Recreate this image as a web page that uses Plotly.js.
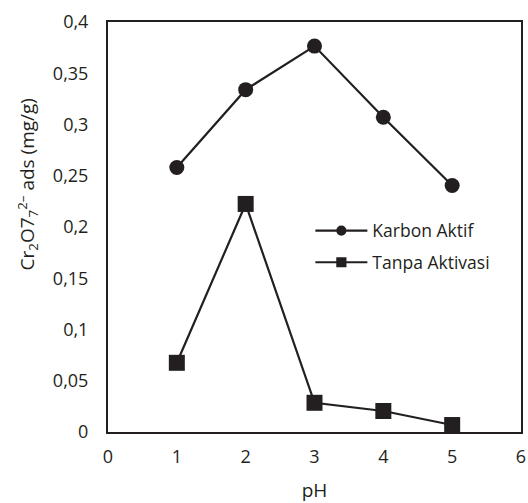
<!DOCTYPE html>
<html>
<head>
<meta charset="utf-8">
<script src="https://cdn.plot.ly/plotly-3.0.1.min.js"></script>
<style>html,body{margin:0;padding:0;background:#fff;}#chart{width:528px;height:503px;}</style>
</head>
<body>
<div id="chart"></div>
<script>
const pH = [1, 2, 3, 4, 5];
const karbonAktif = [0.258, 0.334, 0.3765, 0.307, 0.2405];
const tanpaAktivasi = [0.0675, 0.2225, 0.0285, 0.0205, 0.0068];
const yTicks = [0, 0.05, 0.1, 0.15, 0.2, 0.25, 0.3, 0.35, 0.4];
const xTicks = [0, 1, 2, 3, 4, 5, 6];

const ink = '#231f20';
const fontFam = '"Open Sans", sans-serif';

const traces = [
  {
    x: pH, y: karbonAktif, name: 'Karbon Aktif', type: 'scatter', mode: 'lines+markers',
    legendgroup: 'a',
    line: {color: ink, width: 2.2},
    marker: {symbol: 'circle', size: 15, color: ink}
  },
  {
    x: pH, y: tanpaAktivasi, name: 'Tanpa Aktivasi', type: 'scatter', mode: 'lines+markers',
    legendgroup: 'b',
    line: {color: ink, width: 2.2},
    marker: {symbol: 'square', size: 16, color: ink}
  }
];

const layout = {
  width: 528, height: 503,
  margin: {l: 108, r: 7, t: 22, b: 71},
  paper_bgcolor: '#fff', plot_bgcolor: '#fff',
  separators: ',.',
  font: {family: fontFam, size: 16, color: ink},
  showlegend: true,
  legend: {
    x: 0.49, y: 0.535, xanchor: 'left', yanchor: 'top',
    bgcolor: 'rgba(0,0,0,0)', borderwidth: 0,
    font: {family: fontFam, size: 17.5, color: ink},
    itemwidth: 52, tracegroupgap: 6, itemsizing: 'constant'
  },
  xaxis: {
    range: [0, 6], tickvals: xTicks, ticks: '', showgrid: false, zeroline: false,
    showline: true, mirror: true, linecolor: ink, linewidth: 2,
    tickfont: {family: fontFam, size: 18, color: ink}, ticklabelstandoff: 7,
    title: {text: 'pH', font: {family: fontFam, size: 19, color: ink}, standoff: 18}
  },
  yaxis: {
    range: [0, 0.4], tickvals: yTicks, ticks: '', showgrid: false, zeroline: false,
    showline: true, mirror: true, linecolor: ink, linewidth: 2,
    tickfont: {family: fontFam, size: 18, color: ink}, ticklabelstandoff: 14
  },
  annotations: [{
    text: 'Cr<sub>2</sub>O7<sub>7</sub><sup>2–</sup> ads (mg/g)',
    xref: 'paper', yref: 'paper', x: -0.195, y: 0.605, xanchor: 'center', yanchor: 'middle',
    textangle: -90, showarrow: false,
    font: {family: fontFam, size: 19, color: ink}
  }]
};

Plotly.newPlot('chart', traces, layout, {displayModeBar: false, staticPlot: true}).then(function (gd) {
  // thin legend sample lines and slightly smaller legend symbols, as in the reference
  gd.querySelectorAll('.legend .legendlines path').forEach(function (p) {
    p.style.strokeWidth = '2.2px';
  });
  gd.querySelectorAll('.legend .legendpoints path').forEach(function (p) {
    const t = p.getAttribute('transform') || '';
    p.setAttribute('transform', t + ' scale(0.85)');
  });
});
</script>
</body>
</html>
